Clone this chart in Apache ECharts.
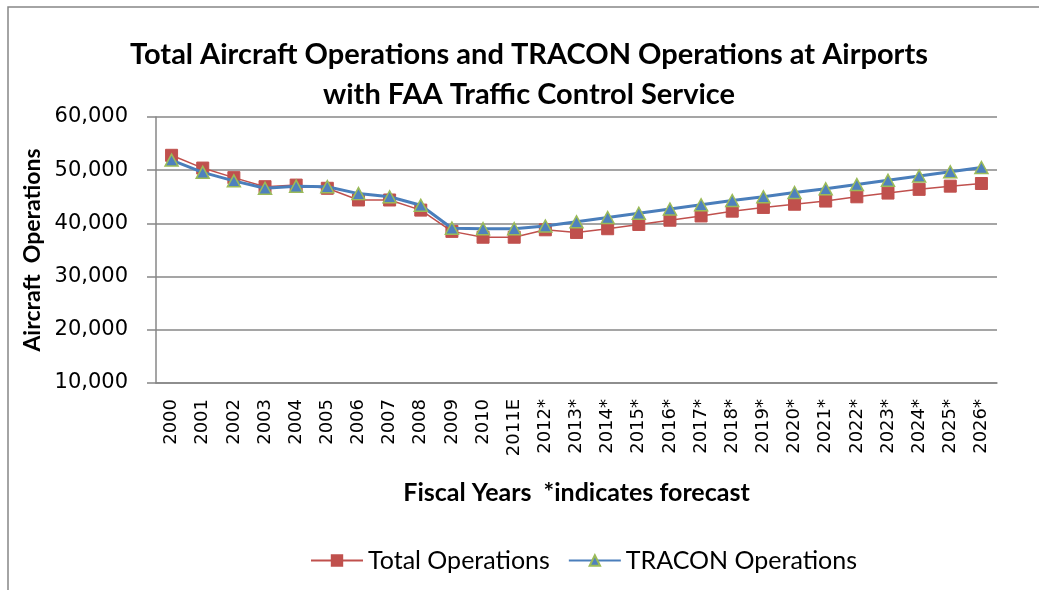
<!DOCTYPE html>
<html>
<head>
<meta charset="utf-8">
<script src="https://cdn.jsdelivr.net/npm/echarts@6/dist/echarts.min.js"></script>
<style>
html, body { margin: 0; padding: 0; background: #fff; }
#chart { width: 1039px; height: 590px; }
</style>
</head>
<body>
<div id="chart"></div>
<script>
// fiscal years, '*' marks forecast
var years = ['2000', '2001', '2002', '2003', '2004', '2005', '2006', '2007', '2008', '2009',
	'2010', '2011E', '2012*', '2013*', '2014*', '2015*', '2016*', '2017*', '2018*', '2019*',
	'2020*', '2021*', '2022*', '2023*', '2024*', '2025*', '2026*'];

var totalOps = [52800, 50400, 48600, 46900, 47200, 46600, 44400, 44400, 42500, 38500,
	37400, 37400, 38800, 38300, 39000, 39800, 40600, 41400, 42300, 43000,
	43600, 44200, 45000, 45700, 46400, 47000, 47500];

var traconOps = [51900, 49600, 48000, 46600, 47000, 46900, 45600, 45000, 43400, 39100,
	39000, 39000, 39500, 40300, 41100, 41900, 42700, 43500, 44300, 45000,
	45800, 46500, 47300, 48100, 48900, 49700, 50500];

var yTicks = [10000, 20000, 30000, 40000, 50000, 60000];

var gray = '#878787';
var chart = echarts.init(document.getElementById('chart'));

chart.setOption({
	backgroundColor: '#fff',
	animation: false,
	title: {
		text: 'Total Aircraft Operations and TRACON Operations at Airports\nwith FAA Traffic Control Service',
		left: 524,
		top: 30,
		textAlign: 'center',
		textStyle: {
			fontFamily: 'Lato',
			fontWeight: 'bold',
			fontSize: 29,
			lineHeight: 40,
			color: '#000'
		}
	},
	graphic: [{
		type: 'rect',
		shape: { x: 8, y: 7, width: 1200, height: 800 },
		style: { fill: 'none', stroke: gray, lineWidth: 1.5 },
		silent: true
	}],
	legend: {
		bottom: 12,
		left: 305,
		itemWidth: 52,
		itemHeight: 13,
		itemGap: 18,
		textStyle: {
			fontFamily: 'Lato',
			fontSize: 25,
			color: '#000'
		},
		data: ['Total Operations', 'TRACON Operations']
	},
	grid: {
		left: 156,
		right: 42,
		top: 117,
		bottom: 207
	},
	xAxis: {
		type: 'category',
		data: years,
		boundaryGap: true,
		name: 'Fiscal Years  *indicates forecast',
		nameLocation: 'middle',
		nameGap: 97,
		nameTextStyle: {
			fontFamily: 'Lato',
			fontWeight: 'bold',
			fontSize: 25,
			color: '#000'
		},
		axisLine: { show: true, lineStyle: { color: gray, width: 1.5 } },
		axisTick: { show: false },
		axisLabel: {
			rotate: 90,
			margin: 16,
			fontFamily: 'DejaVu Sans',
			fontSize: 18,
			color: '#000'
		}
	},
	yAxis: {
		type: 'value',
		min: yTicks[0],
		max: yTicks[yTicks.length - 1],
		interval: 10000,
		name: 'Aircraft  Operations',
		nameLocation: 'middle',
		nameGap: 111,
		nameTextStyle: {
			fontFamily: 'Lato',
			fontWeight: 'bold',
			fontSize: 23,
			color: '#000'
		},
		axisLine: { show: true, lineStyle: { color: gray, width: 1.5 } },
		axisTick: { show: true, inside: false, length: 9, lineStyle: { color: gray, width: 1.5 } },
		splitLine: { show: true, lineStyle: { color: gray, width: 1.5 } },
		axisLabel: {
			margin: 28,
			fontFamily: 'DejaVu Sans',
			fontSize: 21,
			color: '#000',
			formatter: function(v) {
				return v.toLocaleString('en-US');
			}
		}
	},
	series: [{
		name: 'Total Operations',
		type: 'line',
		data: totalOps,
		symbol: 'rect',
		symbolSize: 12,
		lineStyle: { color: '#C0504D', width: 1.5 },
		itemStyle: { color: '#C0504D', borderColor: '#C0504D', borderWidth: 1 },
		z: 2
	}, {
		name: 'TRACON Operations',
		type: 'line',
		data: traconOps,
		symbol: 'triangle',
		symbolSize: [13, 12],
		lineStyle: { color: '#4A7EBB', width: 3 },
		itemStyle: { color: '#4F81BD', borderColor: '#9BBB59', borderWidth: 1.5 },
		z: 3
	}]
});
</script>
</body>
</html>
